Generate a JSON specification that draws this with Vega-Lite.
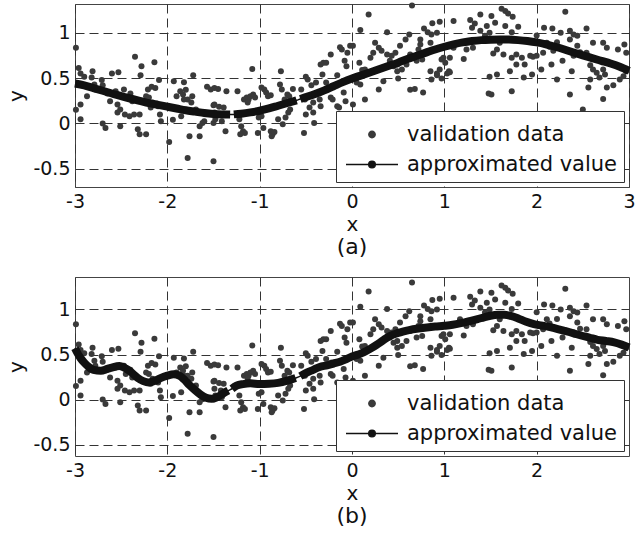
{
  "$schema": "https://vega.github.io/schema/vega-lite/v6.json",
  "padding": {"left": 6, "top": 1, "right": 0, "bottom": 5},
  "background": "white",
  "bounds": "flush",
  "spacing": 90,
  "resolve": {"scale": {"color": "independent"}, "legend": {"color": "independent"}},
  "config": {
    "font": "DejaVu Sans",
    "view": {"stroke": "#444", "strokeWidth": 1},
    "axis": {"domain": false, "ticks": false, "grid": true, "gridColor": "#333", "gridDash": [9, 5], "gridWidth": 1, "gridOpacity": 1, "labelFont": "DejaVu Sans", "labelFontSize": 19, "labelColor": "#111", "labelPadding": 5, "labelFlush": false, "titleFont": "DejaVu Sans", "titleFontSize": 20, "titleFontWeight": "normal", "titleColor": "#111", "titlePadding": 3, "format": "~g", "labelExpr": "replace(datum.label, '\u2212', '-')"},
    "axisY": {"titlePadding": 6},
    "title": {"font": "DejaVu Sans", "fontSize": 22, "fontWeight": "normal", "color": "#111"},
    "legend": {"orient": "bottom-right", "offset": 5, "fillColor": "white", "strokeColor": "#333", "strokeWidth": 1, "padding": 6, "labelFont": "DejaVu Sans", "labelFontSize": 21, "labelColor": "#111", "labelLimit": 300, "symbolSize": 2704, "symbolStrokeWidth": 1.3, "clipHeight": 29, "rowPadding": 1, "symbolOffset": 3, "labelOffset": 8, "cornerRadius": 0}
  },
  "datasets": {
    "val": [
      {"x": -2.99, "y": 0.835}, {"x": -2.96, "y": 0.61}, {"x": -2.94, "y": 0.55}, {"x": -2.9, "y": 0.515}, {"x": -2.81, "y": 0.575}, {"x": -2.82, "y": 0.505}, {"x": -2.79, "y": 0.43}, {"x": -2.78, "y": 0.375}, {"x": -2.71, "y": 0.48}, {"x": -2.7, "y": 0.42}, {"x": -2.87, "y": 0.3}, {"x": -2.94, "y": 0.21}, {"x": -2.99, "y": 0.15}, {"x": -2.94, "y": 0.045}, {"x": -2.7, "y": 0.0}, {"x": -2.67, "y": -0.05}, {"x": -2.65, "y": 0.33}, {"x": -2.62, "y": 0.245}, {"x": -2.6, "y": 0.55}, {"x": -2.53, "y": 0.565}, {"x": -2.56, "y": 0.355}, {"x": -2.54, "y": 0.21}, {"x": -2.51, "y": 0.155}, {"x": -2.54, "y": 0.12}, {"x": -2.47, "y": 0.375}, {"x": -2.45, "y": 0.285}, {"x": -2.4, "y": 0.33}, {"x": -2.38, "y": 0.245}, {"x": -2.46, "y": 0.1}, {"x": -2.41, "y": 0.08}, {"x": -2.36, "y": 0.1}, {"x": -2.3, "y": 0.1}, {"x": -2.51, "y": -0.03}, {"x": -2.35, "y": 0.735}, {"x": -2.28, "y": 0.63}, {"x": -2.29, "y": 0.53}, {"x": -2.14, "y": 0.675}, {"x": -2.09, "y": 0.48}, {"x": -2.21, "y": 0.375}, {"x": -2.17, "y": 0.405}, {"x": -2.13, "y": 0.39}, {"x": -2.23, "y": 0.3}, {"x": -2.2, "y": 0.285}, {"x": -2.16, "y": 0.23}, {"x": -2.18, "y": 0.175}, {"x": -2.1, "y": 0.19}, {"x": -2.08, "y": 0.1}, {"x": -2.07, "y": 0.025}, {"x": -2.32, "y": -0.065}, {"x": -2.3, "y": -0.12}, {"x": -2.23, "y": -0.12}, {"x": -1.98, "y": -0.205}, {"x": -1.93, "y": 0.465}, {"x": -1.82, "y": 0.455}, {"x": -1.86, "y": 0.355}, {"x": -1.9, "y": 0.3}, {"x": -1.83, "y": 0.32}, {"x": -1.8, "y": 0.37}, {"x": -1.78, "y": 0.265}, {"x": -1.74, "y": 0.23}, {"x": -1.73, "y": 0.3}, {"x": -1.94, "y": 0.04}, {"x": -1.85, "y": 0.08}, {"x": -1.78, "y": -0.38}, {"x": -1.76, "y": -0.14}, {"x": -1.65, "y": -0.14}, {"x": -1.65, "y": -0.03}, {"x": -1.62, "y": 0.005}, {"x": -1.6, "y": 0.025}, {"x": -1.57, "y": 0.405}, {"x": -1.53, "y": 0.375}, {"x": -1.5, "y": 0.2}, {"x": -1.5, "y": 0.005}, {"x": -1.5, "y": -0.415}, {"x": -1.72, "y": 0.53}, {"x": -1.82, "y": 0.265}, {"x": -1.69, "y": 0.155},
      {"x": -1.49, "y": 0.39}, {"x": -1.45, "y": 0.38}, {"x": -1.36, "y": 0.355}, {"x": -1.24, "y": 0.355}, {"x": -1.49, "y": 0.21}, {"x": -1.44, "y": 0.185}, {"x": -1.39, "y": 0.175}, {"x": -1.49, "y": 0.12}, {"x": -1.42, "y": 0.1}, {"x": -1.48, "y": 0.045}, {"x": -1.41, "y": 0.025}, {"x": -1.37, "y": -0.085}, {"x": -1.22, "y": 0.045}, {"x": -1.2, "y": -0.03}, {"x": -1.18, "y": -0.085}, {"x": -1.16, "y": -0.105}, {"x": -1.21, "y": -0.12}, {"x": -1.17, "y": 0.265}, {"x": -1.14, "y": 0.285}, {"x": -1.12, "y": 0.265}, {"x": -1.1, "y": 0.3}, {"x": -1.07, "y": 0.32}, {"x": -1.05, "y": 0.285}, {"x": -1.13, "y": 0.23}, {"x": -1.08, "y": 0.6}, {"x": -0.98, "y": 0.395}, {"x": -0.95, "y": 0.375}, {"x": -0.91, "y": 0.3}, {"x": -0.88, "y": 0.31}, {"x": -0.93, "y": 0.34}, {"x": -1.01, "y": 0.065}, {"x": -0.98, "y": 0.08}, {"x": -1.02, "y": -0.105}, {"x": -0.96, "y": -0.05}, {"x": -0.88, "y": -0.085}, {"x": -0.86, "y": -0.12}, {"x": -0.87, "y": -0.14}, {"x": -0.84, "y": -0.095}, {"x": -0.8, "y": 0.045}, {"x": -0.75, "y": -0.01}, {"x": -0.72, "y": 0.065}, {"x": -0.78, "y": 0.43}, {"x": -0.77, "y": 0.575}, {"x": -0.76, "y": 0.375}, {"x": -0.7, "y": 0.32}, {"x": -0.73, "y": 0.265}, {"x": -0.68, "y": 0.3}, {"x": -0.64, "y": 0.38}, {"x": -0.67, "y": 0.155}, {"x": -0.69, "y": 0.12}, {"x": -0.55, "y": 0.375}, {"x": -0.5, "y": 0.515}, {"x": -0.48, "y": 0.485}, {"x": -0.44, "y": 0.42}, {"x": -0.42, "y": 0.23}, {"x": -0.5, "y": 0.1}, {"x": -0.46, "y": 0.175}, {"x": -0.42, "y": 0.12}, {"x": -0.41, "y": 0.005}, {"x": -0.52, "y": -0.105}, {"x": -0.51, "y": 0.265}, {"x": -0.39, "y": 0.45}, {"x": -0.35, "y": 0.265}, {"x": -0.34, "y": 0.19}, {"x": -0.34, "y": 0.65}, {"x": -0.31, "y": 0.67}, {"x": -0.32, "y": 0.54}, {"x": -0.28, "y": 0.67}, {"x": -0.23, "y": 0.76}, {"x": -0.16, "y": 0.53}, {"x": -0.23, "y": 0.285}, {"x": -0.21, "y": 0.265}, {"x": -0.16, "y": 0.19}, {"x": -0.14, "y": 0.175}, {"x": -0.11, "y": 0.815}, {"x": -0.08, "y": 0.69}, {"x": -0.05, "y": 0.78}, {"x": -0.02, "y": 0.855}, {"x": -0.09, "y": 0.34}, {"x": -0.07, "y": 0.245}, {"x": -0.28, "y": 0.45}, {"x": -0.22, "y": 0.41}, {"x": -0.06, "y": 0.63}, {"x": -0.13, "y": 0.84},
      {"x": 0.65, "y": 1.3}, {"x": 0.18, "y": 1.2}, {"x": 0.09, "y": 1.03}, {"x": 0.38, "y": 1.005}, {"x": 0.62, "y": 0.98}, {"x": 0.01, "y": 0.855}, {"x": 0.25, "y": 0.89}, {"x": 0.29, "y": 0.835}, {"x": 0.32, "y": 0.8}, {"x": 0.38, "y": 0.76}, {"x": 0.43, "y": 0.745}, {"x": 0.47, "y": 0.78}, {"x": 0.52, "y": 0.855}, {"x": 0.58, "y": 0.925}, {"x": 0.74, "y": 0.925}, {"x": 0.78, "y": 1.045}, {"x": 0.87, "y": 1.105}, {"x": 0.95, "y": 1.12}, {"x": 0.92, "y": 1.0}, {"x": 0.86, "y": 0.98}, {"x": 0.85, "y": 0.89}, {"x": 0.74, "y": 0.87}, {"x": 0.72, "y": 0.815}, {"x": 0.7, "y": 0.69}, {"x": 0.76, "y": 0.705}, {"x": 0.63, "y": 0.76}, {"x": 0.59, "y": 0.65}, {"x": 0.49, "y": 0.65}, {"x": 0.54, "y": 0.595}, {"x": 0.49, "y": 0.575}, {"x": 0.45, "y": 0.63}, {"x": 0.41, "y": 0.69}, {"x": 0.23, "y": 0.78}, {"x": 0.2, "y": 0.725}, {"x": 0.08, "y": 0.67}, {"x": 0.11, "y": 0.59}, {"x": 0.14, "y": 0.595}, {"x": 0.05, "y": 0.45}, {"x": 0.09, "y": 0.43}, {"x": 0.34, "y": 0.465}, {"x": 0.29, "y": 0.375}, {"x": 0.5, "y": 0.495}, {"x": 0.63, "y": 0.37}, {"x": 0.68, "y": 0.38}, {"x": 0.77, "y": 0.34}, {"x": 0.85, "y": 0.575}, {"x": 0.92, "y": 0.55}, {"x": 0.95, "y": 0.595}, {"x": 0.97, "y": 0.705}, {"x": 1.01, "y": 0.67}, {"x": 1.05, "y": 0.575}, {"x": 0.99, "y": 0.725}, {"x": 1.06, "y": 0.725}, {"x": 1.1, "y": 0.835}, {"x": 1.17, "y": 0.89}, {"x": 1.21, "y": 0.71}, {"x": 1.24, "y": 0.815}, {"x": 1.31, "y": 0.835}, {"x": 1.3, "y": 1.055}, {"x": 1.39, "y": 1.2}, {"x": 1.28, "y": 1.14}, {"x": 1.33, "y": 1.1}, {"x": 1.39, "y": 1.02}, {"x": 1.44, "y": 0.965}, {"x": 1.46, "y": 1.075}, {"x": 1.49, "y": 1.0}, {"x": 1.49, "y": 0.515}, {"x": 1.48, "y": 0.33}, {"x": 1.1, "y": 1.13}, {"x": 0.82, "y": 1.005}, {"x": 0.86, "y": 0.485}, {"x": 0.92, "y": 0.53}, {"x": 0.97, "y": 0.495}, {"x": 1.03, "y": 0.55}, {"x": 1.06, "y": 0.565}, {"x": 0.01, "y": 0.21}, {"x": 0.14, "y": 0.265},
      {"x": 1.62, "y": 1.265}, {"x": 1.66, "y": 1.24}, {"x": 1.69, "y": 1.21}, {"x": 1.74, "y": 1.175}, {"x": 1.51, "y": 1.185}, {"x": 1.55, "y": 1.11}, {"x": 1.66, "y": 1.075}, {"x": 1.8, "y": 1.065}, {"x": 1.73, "y": 1.005}, {"x": 1.71, "y": 0.925}, {"x": 1.6, "y": 0.89}, {"x": 1.57, "y": 0.815}, {"x": 1.53, "y": 0.77}, {"x": 1.64, "y": 0.76}, {"x": 1.73, "y": 0.725}, {"x": 1.78, "y": 0.76}, {"x": 1.84, "y": 0.725}, {"x": 1.96, "y": 0.735}, {"x": 2.0, "y": 0.745}, {"x": 2.31, "y": 1.23}, {"x": 2.08, "y": 1.055}, {"x": 2.17, "y": 1.045}, {"x": 2.26, "y": 1.0}, {"x": 2.36, "y": 1.02}, {"x": 2.4, "y": 0.98}, {"x": 2.44, "y": 0.965}, {"x": 2.54, "y": 1.045}, {"x": 2.0, "y": 0.97}, {"x": 2.11, "y": 0.89}, {"x": 2.14, "y": 0.845}, {"x": 2.18, "y": 0.8}, {"x": 2.07, "y": 0.78}, {"x": 2.22, "y": 0.895}, {"x": 2.36, "y": 0.925}, {"x": 2.44, "y": 0.855}, {"x": 2.47, "y": 0.785}, {"x": 2.4, "y": 0.745}, {"x": 2.54, "y": 0.78}, {"x": 2.61, "y": 0.89}, {"x": 2.72, "y": 0.89}, {"x": 2.76, "y": 0.835}, {"x": 2.88, "y": 0.815}, {"x": 2.95, "y": 0.87}, {"x": 2.97, "y": 0.78}, {"x": 2.58, "y": 0.64}, {"x": 2.61, "y": 0.595}, {"x": 2.65, "y": 0.56}, {"x": 2.72, "y": 0.595}, {"x": 2.74, "y": 0.54}, {"x": 2.68, "y": 0.505}, {"x": 2.58, "y": 0.485}, {"x": 2.56, "y": 0.395}, {"x": 2.76, "y": 0.395}, {"x": 2.83, "y": 0.42}, {"x": 2.9, "y": 0.485}, {"x": 2.94, "y": 0.52}, {"x": 2.97, "y": 0.575}, {"x": 1.57, "y": 0.54}, {"x": 1.71, "y": 0.575}, {"x": 1.86, "y": 0.505}, {"x": 1.95, "y": 0.54}, {"x": 2.05, "y": 0.595}, {"x": 2.22, "y": 0.485}, {"x": 2.16, "y": 0.65}, {"x": 2.28, "y": 0.69}, {"x": 2.38, "y": 0.575}, {"x": 1.73, "y": 0.355}, {"x": 1.51, "y": 0.32}, {"x": 2.36, "y": 0.32}, {"x": 2.72, "y": 0.27}, {"x": 2.5, "y": 0.155}, {"x": 1.93, "y": 0.745}, {"x": 1.87, "y": 0.65}, {"x": 1.78, "y": 0.65}
    ],
    "curveA": [
      {"x": -3.0, "y": 0.44, "seg": 1}, {"x": -2.9, "y": 0.42, "seg": 1}, {"x": -2.8, "y": 0.39, "seg": 1}, {"x": -2.7, "y": 0.36, "seg": 1}, {"x": -2.6, "y": 0.33, "seg": 1}, {"x": -2.5, "y": 0.3, "seg": 1}, {"x": -2.4, "y": 0.275, "seg": 1}, {"x": -2.3, "y": 0.25, "seg": 1}, {"x": -2.2, "y": 0.225, "seg": 1}, {"x": -2.1, "y": 0.205, "seg": 1}, {"x": -2.0, "y": 0.185, "seg": 1}, {"x": -1.9, "y": 0.165, "seg": 1}, {"x": -1.8, "y": 0.145, "seg": 1}, {"x": -1.7, "y": 0.13, "seg": 1}, {"x": -1.6, "y": 0.115, "seg": 1}, {"x": -1.5, "y": 0.105, "seg": 1}, {"x": -1.4, "y": 0.1, "seg": 1}, {"x": -1.32, "y": 0.098, "seg": 1},
      {"x": -1.28, "y": 0.1, "seg": 2}, {"x": -1.2, "y": 0.108, "seg": 2}, {"x": -1.1, "y": 0.122, "seg": 2}, {"x": -1.0, "y": 0.14, "seg": 2}, {"x": -0.9, "y": 0.165, "seg": 2}, {"x": -0.8, "y": 0.195, "seg": 2}, {"x": -0.7, "y": 0.225, "seg": 2}, {"x": -0.6, "y": 0.255, "seg": 2},
      {"x": -0.56, "y": 0.27, "seg": 3}, {"x": -0.5, "y": 0.29, "seg": 3}, {"x": -0.4, "y": 0.325, "seg": 3}, {"x": -0.3, "y": 0.365, "seg": 3}, {"x": -0.2, "y": 0.41, "seg": 3}, {"x": -0.1, "y": 0.455, "seg": 3}, {"x": 0.0, "y": 0.495, "seg": 3}, {"x": 0.1, "y": 0.53, "seg": 3}, {"x": 0.2, "y": 0.565, "seg": 3}, {"x": 0.3, "y": 0.6, "seg": 3}, {"x": 0.4, "y": 0.635, "seg": 3}, {"x": 0.5, "y": 0.67, "seg": 3}, {"x": 0.6, "y": 0.71, "seg": 3}, {"x": 0.7, "y": 0.745, "seg": 3}, {"x": 0.8, "y": 0.78, "seg": 3}, {"x": 0.9, "y": 0.815, "seg": 3}, {"x": 1.0, "y": 0.845, "seg": 3}, {"x": 1.1, "y": 0.872, "seg": 3}, {"x": 1.2, "y": 0.893, "seg": 3}, {"x": 1.3, "y": 0.908, "seg": 3}, {"x": 1.4, "y": 0.918, "seg": 3}, {"x": 1.5, "y": 0.923, "seg": 3}, {"x": 1.6, "y": 0.925, "seg": 3}, {"x": 1.7, "y": 0.924, "seg": 3}, {"x": 1.8, "y": 0.918, "seg": 3}, {"x": 1.9, "y": 0.908, "seg": 3}, {"x": 2.0, "y": 0.893, "seg": 3}, {"x": 2.1, "y": 0.872, "seg": 3}, {"x": 2.2, "y": 0.845, "seg": 3}, {"x": 2.3, "y": 0.815, "seg": 3}, {"x": 2.4, "y": 0.782, "seg": 3}, {"x": 2.5, "y": 0.75, "seg": 3}, {"x": 2.6, "y": 0.72, "seg": 3}, {"x": 2.7, "y": 0.69, "seg": 3}, {"x": 2.8, "y": 0.66, "seg": 3}, {"x": 2.9, "y": 0.625, "seg": 3}, {"x": 3.0, "y": 0.58, "seg": 3}
    ],
    "curveB": [
      {"x": -3.0, "y": 0.57, "seg": 1}, {"x": -2.97, "y": 0.51, "seg": 1}, {"x": -2.94, "y": 0.46, "seg": 1}, {"x": -2.9, "y": 0.41, "seg": 1}, {"x": -2.86, "y": 0.37, "seg": 1}, {"x": -2.8, "y": 0.33, "seg": 1}, {"x": -2.72, "y": 0.32, "seg": 1}, {"x": -2.65, "y": 0.34, "seg": 1}, {"x": -2.6, "y": 0.355, "seg": 1}, {"x": -2.52, "y": 0.372, "seg": 1}, {"x": -2.45, "y": 0.345, "seg": 1}, {"x": -2.4, "y": 0.31, "seg": 1}, {"x": -2.32, "y": 0.24, "seg": 1}, {"x": -2.26, "y": 0.205, "seg": 1}, {"x": -2.2, "y": 0.19, "seg": 1}, {"x": -2.14, "y": 0.205, "seg": 1}, {"x": -2.08, "y": 0.235, "seg": 1}, {"x": -2.0, "y": 0.265, "seg": 1}, {"x": -1.93, "y": 0.28, "seg": 1}, {"x": -1.87, "y": 0.265, "seg": 1}, {"x": -1.82, "y": 0.225, "seg": 1}, {"x": -1.76, "y": 0.16, "seg": 1}, {"x": -1.7, "y": 0.105, "seg": 1}, {"x": -1.64, "y": 0.055, "seg": 1}, {"x": -1.58, "y": 0.02, "seg": 1}, {"x": -1.52, "y": 0.008, "seg": 1}, {"x": -1.46, "y": 0.028, "seg": 1}, {"x": -1.4, "y": 0.065, "seg": 1}, {"x": -1.34, "y": 0.1, "seg": 1},
      {"x": -1.3, "y": 0.12, "seg": 2}, {"x": -1.25, "y": 0.155, "seg": 2}, {"x": -1.18, "y": 0.172, "seg": 2}, {"x": -1.1, "y": 0.18, "seg": 2}, {"x": -1.0, "y": 0.172, "seg": 2}, {"x": -0.9, "y": 0.175, "seg": 2}, {"x": -0.8, "y": 0.185, "seg": 2}, {"x": -0.7, "y": 0.21, "seg": 2}, {"x": -0.61, "y": 0.24, "seg": 2},
      {"x": -0.56, "y": 0.26, "seg": 3}, {"x": -0.49, "y": 0.3, "seg": 3}, {"x": -0.42, "y": 0.33, "seg": 3}, {"x": -0.35, "y": 0.362, "seg": 3}, {"x": -0.27, "y": 0.38, "seg": 3}, {"x": -0.2, "y": 0.4, "seg": 3}, {"x": -0.13, "y": 0.42, "seg": 3}, {"x": -0.06, "y": 0.45, "seg": 3}, {"x": 0.0, "y": 0.478, "seg": 3}, {"x": 0.07, "y": 0.5, "seg": 3}, {"x": 0.13, "y": 0.526, "seg": 3}, {"x": 0.2, "y": 0.565, "seg": 3}, {"x": 0.27, "y": 0.61, "seg": 3}, {"x": 0.34, "y": 0.66, "seg": 3}, {"x": 0.42, "y": 0.71, "seg": 3}, {"x": 0.49, "y": 0.737, "seg": 3}, {"x": 0.56, "y": 0.758, "seg": 3}, {"x": 0.63, "y": 0.774, "seg": 3}, {"x": 0.72, "y": 0.788, "seg": 3}, {"x": 0.81, "y": 0.8, "seg": 3}, {"x": 0.9, "y": 0.81, "seg": 3}, {"x": 1.0, "y": 0.819, "seg": 3}, {"x": 1.09, "y": 0.83, "seg": 3}, {"x": 1.18, "y": 0.848, "seg": 3}, {"x": 1.27, "y": 0.87, "seg": 3}, {"x": 1.36, "y": 0.893, "seg": 3}, {"x": 1.43, "y": 0.913, "seg": 3}, {"x": 1.5, "y": 0.93, "seg": 3}, {"x": 1.58, "y": 0.94, "seg": 3}, {"x": 1.65, "y": 0.94, "seg": 3}, {"x": 1.72, "y": 0.928, "seg": 3}, {"x": 1.8, "y": 0.9, "seg": 3}, {"x": 1.88, "y": 0.865, "seg": 3}, {"x": 1.97, "y": 0.837, "seg": 3}, {"x": 2.05, "y": 0.822, "seg": 3}, {"x": 2.12, "y": 0.81, "seg": 3}, {"x": 2.2, "y": 0.79, "seg": 3}, {"x": 2.3, "y": 0.763, "seg": 3}, {"x": 2.4, "y": 0.735, "seg": 3}, {"x": 2.48, "y": 0.711, "seg": 3}, {"x": 2.57, "y": 0.688, "seg": 3}, {"x": 2.66, "y": 0.663, "seg": 3}, {"x": 2.75, "y": 0.65, "seg": 3}, {"x": 2.84, "y": 0.635, "seg": 3}, {"x": 2.92, "y": 0.61, "seg": 3}, {"x": 3.0, "y": 0.578, "seg": 3}
    ]
  },
  "vconcat": [
    {
      "width": 554,
      "height": 183,
      "title": {"text": "(a)", "orient": "bottom", "offset": 3},
      "layer": [
        {
          "data": {"name": "val"},
          "mark": {"type": "point", "filled": true, "size": 36, "opacity": 1},
          "encoding": {
            "x": {"field": "x", "type": "quantitative", "scale": {"domain": [-3, 3], "nice": false, "zero": false}, "axis": {"title": "x", "values": [-3, -2, -1, 0, 1, 2, 3]}},
            "y": {"field": "y", "type": "quantitative", "scale": {"domain": [-0.7, 1.316], "nice": false, "zero": false}, "axis": {"title": "y", "values": [-0.5, 0, 0.5, 1]}},
            "color": {
              "datum": "validation data",
              "scale": {"domain": ["validation data", "approximated value"], "range": ["#3a3a3a", "#111111"]},
              "legend": {
                "title": null,
                "encoding": {
                  "symbols": {
                    "shape": {"value": {"expr": "datum.value === 'validation data' ? 'M-0.125,0A0.125,0.125,0,1,1,0.125,0A0.125,0.125,0,1,1,-0.125,0Z' : 'M-1,0H1M-0.13,0A0.13,0.13,0,1,1,0.13,0A0.13,0.13,0,1,1,-0.13,0Z'"}},
                    "fill": {"value": {"expr": "datum.value === 'validation data' ? '#3a3a3a' : '#111111'"}},
                    "stroke": {"value": {"expr": "datum.value === 'validation data' ? '#3a3a3a' : '#111111'"}},
                    "strokeWidth": {"value": 1.3},
                    "opacity": {"value": 1},
                    "y": {"value": 17.5}
                  },
                  "labels": {"dy": {"value": 3}}
                }
              }
            }
          }
        },
        {
          "data": {"name": "curveA"},
          "mark": {"type": "line", "strokeWidth": 1.5, "interpolate": "monotone"},
          "encoding": {
            "x": {"field": "x", "type": "quantitative"},
            "y": {"field": "y", "type": "quantitative"},
            "color": {"datum": "approximated value"}
          }
        },
        {
          "data": {"name": "curveA"},
          "mark": {"type": "line", "strokeWidth": 8, "strokeCap": "butt", "strokeJoin": "round", "interpolate": "monotone"},
          "encoding": {
            "x": {"field": "x", "type": "quantitative"},
            "y": {"field": "y", "type": "quantitative"},
            "detail": {"field": "seg"},
            "color": {"datum": "approximated value"}
          }
        }
      ]
    },
    {
      "width": 554,
      "height": 179,
      "title": {"text": "(b)", "orient": "bottom", "offset": 3},
      "layer": [
        {
          "data": {"name": "val"},
          "mark": {"type": "point", "filled": true, "size": 36, "opacity": 1},
          "encoding": {
            "x": {"field": "x", "type": "quantitative", "scale": {"domain": [-3, 3], "nice": false, "zero": false}, "axis": {"title": "x", "values": [-3, -2, -1, 0, 1, 2]}},
            "y": {"field": "y", "type": "quantitative", "scale": {"domain": [-0.626, 1.36], "nice": false, "zero": false}, "axis": {"title": "y", "values": [-0.5, 0, 0.5, 1]}},
            "color": {
              "datum": "validation data",
              "scale": {"domain": ["validation data", "approximated value"], "range": ["#3a3a3a", "#111111"]},
              "legend": {
                "title": null,
                "encoding": {
                  "symbols": {
                    "shape": {"value": {"expr": "datum.value === 'validation data' ? 'M-0.125,0A0.125,0.125,0,1,1,0.125,0A0.125,0.125,0,1,1,-0.125,0Z' : 'M-1,0H1M-0.13,0A0.13,0.13,0,1,1,0.13,0A0.13,0.13,0,1,1,-0.13,0Z'"}},
                    "fill": {"value": {"expr": "datum.value === 'validation data' ? '#3a3a3a' : '#111111'"}},
                    "stroke": {"value": {"expr": "datum.value === 'validation data' ? '#3a3a3a' : '#111111'"}},
                    "strokeWidth": {"value": 1.3},
                    "opacity": {"value": 1},
                    "y": {"value": 17.5}
                  },
                  "labels": {"dy": {"value": 3}}
                }
              }
            }
          }
        },
        {
          "data": {"name": "curveB"},
          "mark": {"type": "line", "strokeWidth": 1.5, "interpolate": "monotone"},
          "encoding": {
            "x": {"field": "x", "type": "quantitative"},
            "y": {"field": "y", "type": "quantitative"},
            "color": {"datum": "approximated value"}
          }
        },
        {
          "data": {"name": "curveB"},
          "mark": {"type": "line", "strokeWidth": 8, "strokeCap": "butt", "strokeJoin": "round", "interpolate": "monotone"},
          "encoding": {
            "x": {"field": "x", "type": "quantitative"},
            "y": {"field": "y", "type": "quantitative"},
            "detail": {"field": "seg"},
            "color": {"datum": "approximated value"}
          }
        }
      ]
    }
  ]
}
